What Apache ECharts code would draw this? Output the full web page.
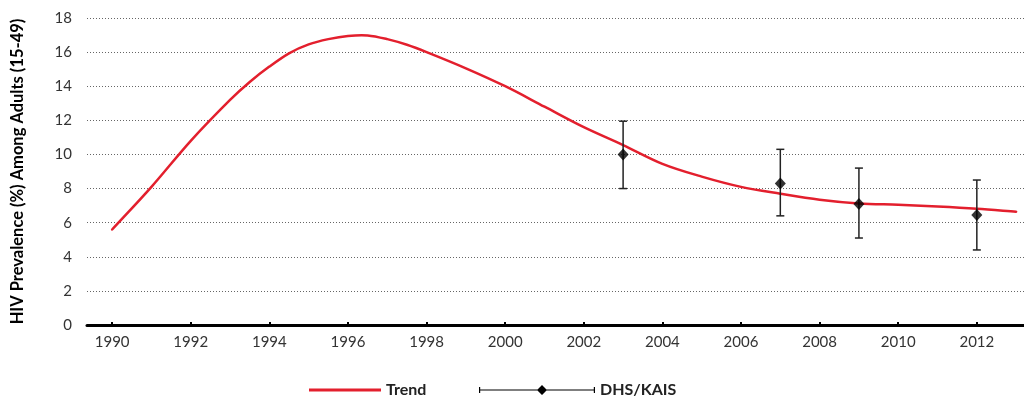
<!DOCTYPE html>
<html>
<head>
<meta charset="utf-8">
<script src="https://cdn.jsdelivr.net/npm/echarts@6/dist/echarts.min.js"></script>
<style>
  html, body { margin: 0; padding: 0; background: #fff; }
  #chart { width: 1024px; height: 399px; }
</style>
</head>
<body>
<div id="chart"></div>
<script>
// Modelled HIV prevalence trend, 1990-2013 (half-year points around the peak)
const trendYears = [1990, 1991, 1992, 1993, 1993.5, 1994, 1994.5, 1995, 1995.5, 1996, 1996.5,
                    1997, 1997.5, 1998, 1999, 2000, 2001, 2002, 2003, 2004, 2005, 2006,
                    2007, 2008, 2009, 2010, 2011, 2012, 2013];
const trendValues = [5.6, 8.1, 10.8, 13.2, 14.25, 15.15, 15.93, 16.45, 16.76, 16.95, 16.98,
                     16.76, 16.43, 16.0, 15.05, 14.0, 12.8, 11.6, 10.55, 9.45, 8.7, 8.1,
                     7.7, 7.35, 7.13, 7.05, 6.95, 6.82, 6.64];

// Survey estimates with confidence bounds
const surveyYears = [2003, 2007, 2009, 2012];
const surveyValues = [10.0, 8.3, 7.1, 6.45];
const surveyLow = [8.0, 6.4, 5.1, 4.4];
const surveyHigh = [11.95, 10.3, 9.2, 8.5];

const yearTicks = [1990, 1992, 1994, 1996, 1998, 2000, 2002, 2004, 2006, 2008, 2010, 2012];

const FONT = 'Lato';
const RED = '#e31f2d';

const trendData = trendYears.map((y, i) => [y, trendValues[i]]);
const surveyData = surveyYears.map((y, i) => [y, surveyValues[i]]);
const barData = surveyYears.map((y, i) => [y, surveyLow[i], surveyHigh[i]]);

// Smooth trend curve: cubic Hermite segments through the projected points,
// with finite-difference slopes, written as a single SVG-style path.
function trendPath(api) {
  const p = trendData.map(d => api.coord(d));
  const n = p.length;
  const slope = p.map((pt, i) => {
    const a = p[Math.max(i - 1, 0)];
    const b = p[Math.min(i + 1, n - 1)];
    return (b[1] - a[1]) / (b[0] - a[0]);
  });
  let d = 'M' + p[0][0] + ',' + p[0][1];
  for (let i = 0; i < n - 1; i++) {
    const h = (p[i + 1][0] - p[i][0]) / 3;
    d += 'C' + (p[i][0] + h) + ',' + (p[i][1] + slope[i] * h) + ' ' +
         (p[i + 1][0] - h) + ',' + (p[i + 1][1] - slope[i + 1] * h) + ' ' +
         p[i + 1][0] + ',' + p[i + 1][1];
  }
  return d;
}

const chart = echarts.init(document.getElementById('chart'), null, { renderer: 'canvas' });

chart.setOption({
  animation: false,
  textStyle: { fontFamily: FONT },
  grid: { left: 87, right: 0, top: 18, bottom: 74 },
  legend: [
    {
      data: ['Trend'],
      left: 304, top: 377,
      icon: 'rect',
      itemWidth: 72, itemHeight: 3, itemGap: 9,
      textStyle: { fontFamily: FONT, fontWeight: 'bold', fontSize: 16, color: '#222' }
    },
    {
      data: [{
        name: 'DHS/KAIS',
        icon: 'path://M0,4.4L116,4.4L116,5.6L0,5.6Z M0,2L1.2,2L1.2,8L0,8Z M114.8,2L116,2L116,8L114.8,8Z M63,0L68,5L63,10L58,5Z'
      }],
      left: 474, top: 377,
      itemWidth: 116, itemHeight: 10, itemGap: 13,
      textStyle: { fontFamily: FONT, fontWeight: 'bold', fontSize: 16, color: '#222' }
    }
  ],
  xAxis: {
    type: 'value',
    min: 1989.36,
    max: 2013.2,
    axisLine: { show: true, lineStyle: { color: '#000', width: 3 } },
    axisTick: {
      show: true, inside: true, length: 3,
      customValues: yearTicks,
      lineStyle: { color: '#000', width: 2 }
    },
    axisLabel: {
      customValues: yearTicks,
      margin: 10,
      fontSize: 15, color: '#333', fontFamily: FONT,
      formatter: v => String(v)
    },
    splitLine: { show: false }
  },
  yAxis: {
    type: 'value',
    min: 0, max: 18, interval: 2,
    name: 'HIV Prevalence (%) Among Adults (15-49)',
    nameLocation: 'middle',
    nameGap: 61,
    nameTextStyle: { fontFamily: FONT, fontWeight: 'bold', fontSize: 16.5, color: '#000' },
    axisLine: { show: false },
    axisTick: { show: false },
    axisLabel: { margin: 15, fontSize: 15, color: '#333', fontFamily: FONT },
    splitLine: { show: true, lineStyle: { color: '#666', type: [1, 2], width: 1 } }
  },
  series: [
    {
      name: 'Trend',
      type: 'custom',
      data: trendData,
      itemStyle: { color: RED },
      encode: { x: 0, y: 1 },
      renderItem: function (params, api) {
        if (params.dataIndex !== 0) return null;
        return {
          type: 'path',
          shape: { pathData: trendPath(api) },
          style: { fill: 'none', stroke: RED, lineWidth: 2.5, lineJoin: 'round', lineCap: 'round' }
        };
      },
      z: 2
    },
    {
      name: 'DHS/KAIS',
      type: 'custom',
      data: barData,
      itemStyle: { color: '#000' },
      renderItem: function (params, api) {
        const x = api.value(0);
        const lo = api.coord([x, api.value(1)]);
        const hi = api.coord([x, api.value(2)]);
        const cap = 4;
        const style = { stroke: '#222', lineWidth: 1.5 };
        return {
          type: 'group',
          children: [
            { type: 'line', shape: { x1: lo[0], y1: lo[1], x2: hi[0], y2: hi[1] }, style },
            { type: 'line', shape: { x1: hi[0] - cap, y1: hi[1], x2: hi[0] + cap, y2: hi[1] }, style },
            { type: 'line', shape: { x1: lo[0] - cap, y1: lo[1], x2: lo[0] + cap, y2: lo[1] }, style }
          ]
        };
      },
      encode: { x: 0, y: [1, 2] },
      z: 3
    },
    {
      name: 'DHS/KAIS',
      type: 'scatter',
      data: surveyData,
      symbol: 'diamond',
      symbolSize: [11, 12],
      itemStyle: { color: '#000' },
      z: 4
    }
  ]
});
</script>
</body>
</html>
